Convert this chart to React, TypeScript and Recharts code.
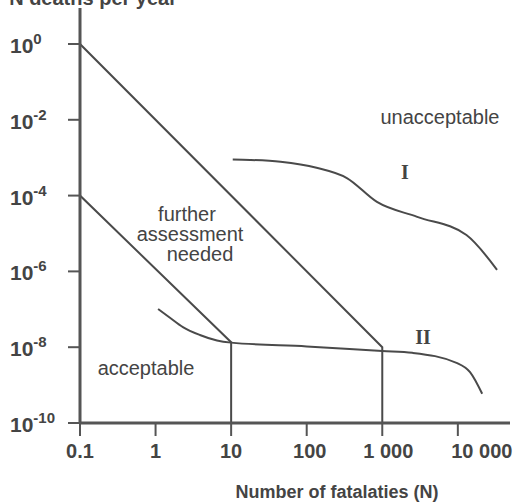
import React from "react";
import { LineChart, Line, XAxis, YAxis } from "recharts";

const xTicks = [0.1, 1, 10, 100, 1000, 10000];
const xTickLabels = ["0.1", "1", "10", "100", "1 000", "10 000"];
const yTicks = [1, 1e-2, 1e-4, 1e-6, 1e-8, 1e-10];

const upperLimit = [
  { x: 0.1, y: 1 },
  { x: 1000, y: 1e-8 },
  { x: 1000, y: 1e-10 },
];
const lowerLimit = [
  { x: 0.1, y: 1e-4 },
  { x: 10, y: 1.35e-8 },
  { x: 10, y: 1e-10 },
];
const curveI = [
  { x: 10.5, y: 8.9e-4 },
  { x: 17.8, y: 8.7e-4 },
  { x: 45, y: 7.8e-4 },
  { x: 135, y: 5.4e-4 },
  { x: 340, y: 2.9e-4 },
  { x: 850, y: 6.8e-5 },
  { x: 2900, y: 2.75e-5 },
  { x: 13000, y: 9.1e-6 },
  { x: 33000, y: 1.1e-6 },
];
const curveII = [
  { x: 1.08, y: 1.02e-7 },
  { x: 1.55, y: 6.0e-8 },
  { x: 2.3, y: 3.4e-8 },
  { x: 3.86, y: 2.1e-8 },
  { x: 6.5, y: 1.5e-8 },
  { x: 10, y: 1.32e-8 },
  { x: 100, y: 1.05e-8 },
  { x: 1000, y: 7.9e-9 },
  { x: 2500, y: 7.1e-9 },
  { x: 9800, y: 3.8e-9 },
  { x: 14500, y: 2.2e-9 },
  { x: 21000, y: 5.9e-10 },
];

const INK = "#4a4a4a";
const AXIS = "#555555";
const SANS = "'Liberation Sans', Arial, Helvetica, sans-serif";
const SERIF = "'Liberation Serif', 'Times New Roman', serif";

const xLabelShift: Record<string, number> = { "100": 3, "1000": 6, "10000": 24 };

const XTick = (props: any) => {
  const { x, y, payload } = props;
  const idx = xTicks.indexOf(payload.value);
  const label = idx >= 0 ? xTickLabels[idx] : String(payload.value);
  const dx = xLabelShift[String(payload.value)] || 0;
  return (
    <text
      x={x + dx}
      y={y + 20}
      textAnchor="middle"
      fontFamily={SANS}
      fontWeight="bold"
      fontSize={20}
      fill="#444"
    >
      {label}
    </text>
  );
};

const YTick = (props: any) => {
  const { y, payload } = props;
  const exp = Math.round(Math.log10(payload.value));
  return (
    <text x={10} y={y + 9} textAnchor="start" fontFamily={SANS} fontWeight="bold" fontSize={21} fill="#444">
      10
      <tspan dy={-9} fontSize={15}>
        {String(exp)}
      </tspan>
    </text>
  );
};

export default function App() {
  return (
    <div style={{ position: "absolute", left: 0, top: 0, width: 527, height: 502, background: "#fff" }}>
      <LineChart
        width={527}
        height={502}
        margin={{ top: 8, right: 17, bottom: 49, left: 0 }}
      >
        <XAxis
          dataKey="x"
          type="number"
          scale="log"
          domain={[0.1, 49000]}
          ticks={xTicks}
          allowDataOverflow
          height={30}
          axisLine={{ stroke: AXIS, strokeWidth: 3 }}
          tickLine={{ stroke: AXIS, strokeWidth: 2 }}
          tickSize={13}
          tick={<XTick />}
          interval={0}
        />
        <YAxis
          dataKey="y"
          type="number"
          scale="log"
          domain={[1e-10, 8.9]}
          ticks={yTicks}
          allowDataOverflow
          width={80}
          axisLine={{ stroke: AXIS, strokeWidth: 3 }}
          tickLine={{ stroke: AXIS, strokeWidth: 2 }}
          tickSize={12}
          tick={<YTick />}
          interval={0}
        />
        <Line data={upperLimit} dataKey="y" type="linear" stroke={INK} strokeWidth={2} dot={false} isAnimationActive={false} />
        <Line data={lowerLimit} dataKey="y" type="linear" stroke={INK} strokeWidth={2} dot={false} isAnimationActive={false} />
        <Line data={curveI} dataKey="y" type="monotone" stroke={INK} strokeWidth={2} dot={false} isAnimationActive={false} />
        <Line data={curveII} dataKey="y" type="monotone" stroke={INK} strokeWidth={2} dot={false} isAnimationActive={false} />
      </LineChart>
      <svg
        width={527}
        height={502}
        style={{ position: "absolute", left: 0, top: 0, pointerEvents: "none" }}
      >
        <text x={177} y={5} textAnchor="end" fontFamily={SANS} fontWeight="bold" fontSize={20} fill="#444">
          N deaths per year
        </text>
        <text x={440} y={124} textAnchor="middle" fontFamily={SANS} fontSize={20} fill="#444">
          unacceptable
        </text>
        <text x={405} y={179} textAnchor="middle" fontFamily={SERIF} fontWeight="bold" fontSize={20} fill="#444">
          I
        </text>
        <text x={423} y={344} textAnchor="middle" fontFamily={SERIF} fontWeight="bold" fontSize={20} fill="#444">
          II
        </text>
        <text x={187} y={221} textAnchor="middle" fontFamily={SANS} fontSize={20} fill="#444">
          further
        </text>
        <text x={190} y={241} textAnchor="middle" fontFamily={SANS} fontSize={20} fill="#444">
          assessment
        </text>
        <text x={200} y={261} textAnchor="middle" fontFamily={SANS} fontSize={20} fill="#444">
          needed
        </text>
        <text x={146} y={375} textAnchor="middle" fontFamily={SANS} fontSize={20} fill="#444">
          acceptable
        </text>
        <text x={337} y={498} textAnchor="middle" fontFamily={SANS} fontWeight="bold" fontSize={18} fill="#444">
          Number of fatalaties (N)
        </text>
      </svg>
    </div>
  );
}
